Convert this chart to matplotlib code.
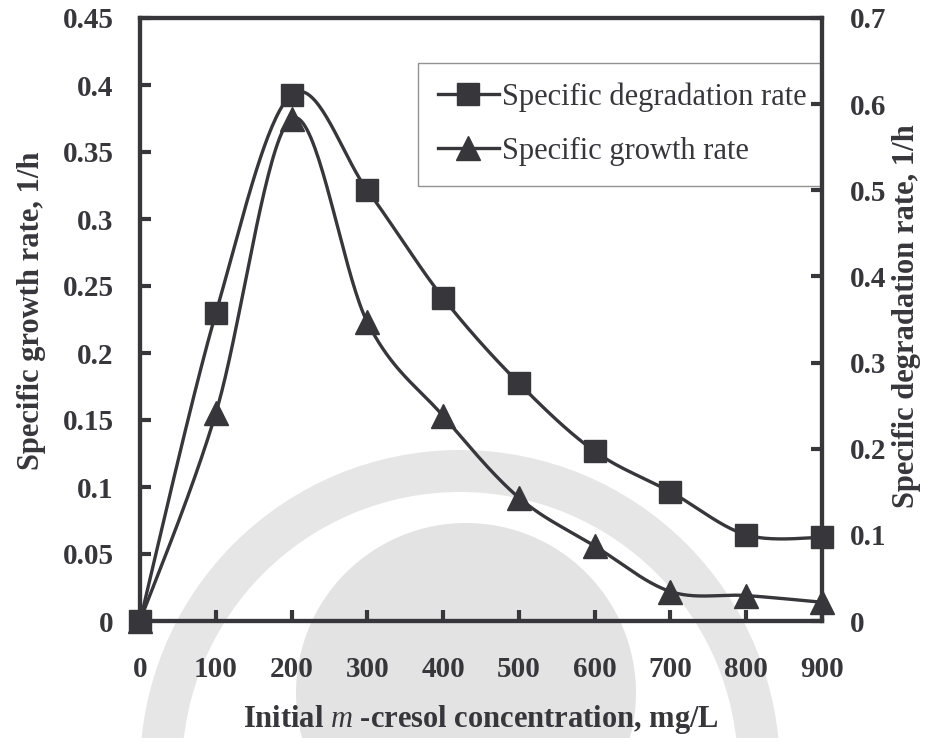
import numpy as np
import matplotlib
matplotlib.use("Agg")
import matplotlib.pyplot as plt
from matplotlib.lines import Line2D
from matplotlib.patches import Circle, Wedge
from matplotlib.transforms import IdentityTransform

# --- data ---
conc = [0, 100, 200, 300, 400, 500, 600, 700, 800, 900]                            # mg/L
growth_rate = [0.0, 0.155, 0.375, 0.223, 0.153, 0.092, 0.056, 0.022, 0.019, 0.014]   # 1/h (left)
degr_rate = [0.0, 0.357, 0.611, 0.500, 0.375, 0.276, 0.197, 0.150, 0.100, 0.097]     # 1/h (right)

left_ticks = [0, 0.05, 0.1, 0.15, 0.2, 0.25, 0.3, 0.35, 0.4, 0.45]
left_labels = ["0", "0.05", "0.1", "0.15", "0.2", "0.25", "0.3", "0.35", "0.4", "0.45"]
right_ticks = [0, 0.1, 0.2, 0.3, 0.4, 0.5, 0.6, 0.7]
right_labels = ["0", "0.1", "0.2", "0.3", "0.4", "0.5", "0.6", "0.7"]

ink = "#36363b"

plt.rcParams["font.family"] = ["Liberation Serif", "DejaVu Serif"]
plt.rcParams["mathtext.fontset"] = "custom"
plt.rcParams["mathtext.rm"] = "Liberation Serif"
plt.rcParams["mathtext.it"] = "Liberation Serif:italic"
plt.rcParams["mathtext.bf"] = "Liberation Serif:bold"


def smooth(x, y, n=40):
    # Excel-style smoothed line: cubic Bezier pieces through every point
    x = np.asarray(x, float)
    y = np.asarray(y, float)
    px, py = [], []
    m = len(x)
    for i in range(m - 1):
        i0 = max(i - 1, 0)
        i3 = min(i + 2, m - 1)
        c1x = x[i] + (x[i + 1] - x[i0]) / 6
        c1y = y[i] + (y[i + 1] - y[i0]) / 6
        c2x = x[i + 1] - (x[i3] - x[i]) / 6
        c2y = y[i + 1] - (y[i3] - y[i]) / 6
        t = np.linspace(0, 1, n)
        a, b, c, d = (1 - t) ** 3, 3 * (1 - t) ** 2 * t, 3 * (1 - t) * t ** 2, t ** 3
        px.extend(a * x[i] + b * c1x + c * c2x + d * x[i + 1])
        py.extend(a * y[i] + b * c1y + c * c2y + d * y[i + 1])
    return np.array(px), np.array(py)


W, H = 926, 738
fig = plt.figure(figsize=(W / 100, H / 100), dpi=100)

# faint round logo behind the plot (pixel coordinates)
fig.patches.append(Circle((466, H - 693), 170, transform=IdentityTransform(),
                          facecolor="#e3e3e3", edgecolor="none", zorder=-5))
fig.patches.append(Wedge((460, H - 770), 320, 0, 360, width=42, transform=IdentityTransform(),
                         facecolor="#e6e6e6", edgecolor="none", zorder=-5))

ax = fig.add_axes([140 / W, 1 - 621 / H, 682 / W, 603 / H])
ax.set_facecolor("none")
ax2 = ax.twinx()
ax2.set_facecolor("none")

gx, gy = smooth(conc, growth_rate)
ax.plot(gx, gy, color=ink, lw=2.4, zorder=3, clip_on=False)
ax.plot(conc, growth_rate, ls="none", marker="^", ms=17, color=ink, zorder=4, clip_on=False)

dx, dy = smooth(conc, degr_rate)
ax2.plot(dx, dy, color=ink, lw=2.4, zorder=3, clip_on=False)
ax2.plot(conc, degr_rate, ls="none", marker="s", ms=16.5, color=ink, zorder=4, clip_on=False)

ax.set_xlim(0, 900)
ax.set_ylim(0, 0.45)
ax2.set_ylim(0, 0.7)

ax.set_xticks(conc)
ax.set_xticklabels([str(c) for c in conc])
ax.set_yticks(left_ticks)
ax.set_yticklabels(left_labels)
ax2.set_yticks(right_ticks)
ax2.set_yticklabels(right_labels)

for a in (ax, ax2):
    for s in a.spines.values():
        s.set_linewidth(3)
        s.set_color(ink)
    a.tick_params(direction="in", length=8, width=3, color=ink, labelsize=21,
                  labelcolor=ink)
    for lab in a.get_xticklabels() + a.get_yticklabels():
        lab.set_fontweight("bold")

ax.tick_params(axis="x", pad=25)
ax.tick_params(axis="y", pad=19)
ax2.tick_params(axis="y", pad=20)

ax.set_xlabel(r"Initial $m$ -cresol concentration, mg/L", fontsize=22, fontweight="bold",
              color=ink)
ax.xaxis.set_label_coords(0.5, (621 - 703) / 603)
ax.set_ylabel("Specific growth rate, 1/h", fontsize=22, fontweight="bold", color=ink)
ax.yaxis.set_label_coords((46 - 140) / 682, 0.515)
ax2.set_ylabel("Specific degradation rate, 1/h", fontsize=22, fontweight="bold", color=ink,
               rotation=90)
ax2.yaxis.set_label_coords((892 - 140) / 682, 0.505)

handles = [
    Line2D([], [], color=ink, lw=2.4, marker="s", ms=16.5),
    Line2D([], [], color=ink, lw=2.4, marker="^", ms=17),
]
leg = ax.legend(handles, ["Specific degradation rate", "Specific growth rate"],
                loc="upper left", bbox_to_anchor=(418 / W, 1 - 63 / H, 402 / W, 0),
                bbox_transform=fig.transFigure, mode="expand", fontsize=22, frameon=True,
                fancybox=False, handlelength=2.0, handletextpad=0.1, labelspacing=0.82,
                borderpad=0.64, borderaxespad=0)
leg.get_frame().set_edgecolor("#777777")
leg.get_frame().set_linewidth(1)
for t in leg.get_texts():
    t.set_color(ink)

plt.savefig("out.png", dpi=100)
